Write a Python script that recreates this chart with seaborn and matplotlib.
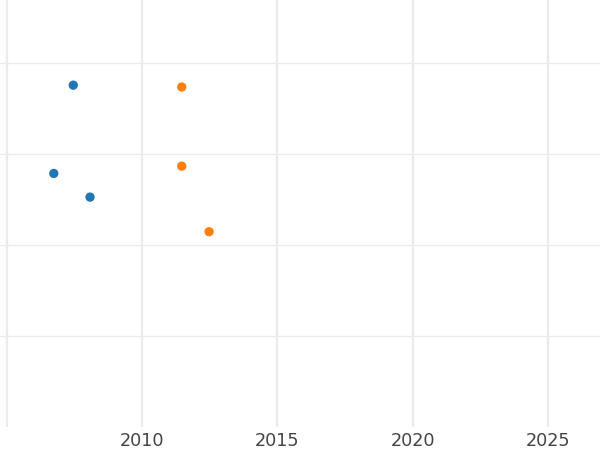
import numpy as np
import pandas as pd
import matplotlib
matplotlib.use("Agg")
import matplotlib.pyplot as plt
import seaborn as sns

# values
years_a = [2007.46, 2006.74, 2008.08]
vals_a = [37.6, 27.9, 25.3]
years_b = [2011.47, 2011.47, 2012.48]
vals_b = [37.4, 28.7, 21.5]
x_ticks = [2005, 2010, 2015, 2020, 2025]
x_labels = ["", "2010", "2015", "2020", "2025"]
y_ticks = [10, 20, 30, 40]

df = pd.DataFrame({
    "year": years_a + years_b,
    "value": vals_a + vals_b,
    "group": ["A"] * len(years_a) + ["B"] * len(years_b),
})

sns.set_theme(style="whitegrid")
plt.rcParams['font.family'] = ['DejaVu Sans']

fig = plt.figure(figsize=(6, 4.5), dpi=100)
ax = fig.add_axes([0, 0.0518, 1, 0.9482])

sns.scatterplot(data=df, x="year", y="value", hue="group",
                palette=["#1f77b4", "#ff7f0e"], s=45, linewidth=0,
                legend=False, ax=ax)

ax.set_xlim(2004.752, 2026.93)
ax.set_ylim(0.07, 46.96)
ax.set_xticks(x_ticks)
ax.set_xticklabels(x_labels)
ax.set_yticks(y_ticks)
ax.set_yticklabels([])
ax.set_xlabel("")
ax.set_ylabel("")
ax.grid(axis="x", color="#ebebeb", linewidth=1.6)
ax.grid(axis="y", color="#ebebeb", linewidth=0.9)
ax.tick_params(axis="both", length=0, labelsize=12.7, labelcolor="#444444", pad=3.8)
for sp in ax.spines.values():
    sp.set_visible(False)

fig.savefig("out.png", dpi=100)
